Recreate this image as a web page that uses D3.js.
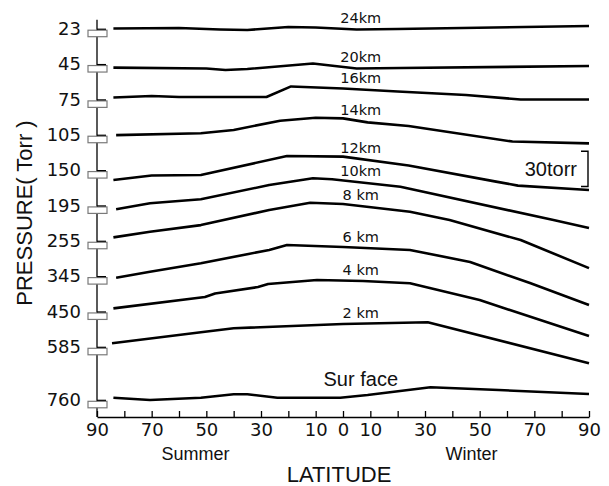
<!DOCTYPE html>
<html><head><meta charset="utf-8">
<script src="https://cdn.jsdelivr.net/npm/d3@7"></script>
<style>
html,body{margin:0;padding:0;background:#fff;}
svg{display:block;}
</style></head><body>
<svg id="chart" width="609" height="486"></svg>
<script>
// Reference pressure levels on the broken pressure axis (Torr)
const levels = [23, 45, 75, 105, 150, 195, 255, 345, 450, 585, 760];
// Latitude: negative = summer hemisphere, positive = winter hemisphere
const latTicks = d3.range(-90, 91, 10);
const latLabels = [-90, -70, -50, -30, -10, 0, 10, 30, 50, 70, 90];
const torrPerBand = 30;

// Pressure (Torr) along each constant-height surface: [latitude, pressure]
const km24 = [[-84,23.2],[-60,23.6],[-45,22.3],[-35,21.9],[-20,24.4],[-10,24.0],[5,22.3],[20,22.7],[90,25.3]];
const km20 = [[-84,42.0],[-50,41.2],[-43,39.9],[-35,40.8],[-11,45.4],[5,41.2],[21,41.6],[90,43.3]];
const km16 = [[-84,76.6],[-70,77.9],[-60,77.0],[-28,77.0],[-19,86.0],[0,84.3],[20,81.7],[45,78.7],[65,74.9],[90,74.9]];
const km14 = [[-83,104.7],[-52,106.2],[-40,109.0],[-23,116.9],[-10,119.4],[0,118.9],[9,115.5],[24,112.4],[62,99.2],[90,97.7]];
const km12 = [[-84,141.6],[-70,145.4],[-52,145.8],[-20.5,162.0],[0,161.4],[24,153.9],[56,140.2],[64,136.8],[90,133.1]];
const km10 = [[-83,191.7],[-70.6,196.8],[-52,200.2],[-27,212.3],[-11,218.0],[-4,217.2],[21,210.9],[77,182.6],[90,175.8]];
const km8  = [[-84,257.9],[-70.6,262.6],[-52,268.3],[-27,281.1],[-12,287.3],[0,286.2],[24.5,279.6],[39,272.6],[65,255.6],[90,231.8]];
const km6  = [[-83,343.6],[-70.6,348.7],[-52,355.9],[-27,367.2],[-20.5,371.4],[0,369.7],[24.5,367.2],[46.5,357.0],[68.4,339.1],[90,320.5]];
const km4  = [[-84,452.6],[-50.5,462.2],[-46.8,465.2],[-31.1,470.7],[-27.4,473.3],[-9.5,476.7],[7.3,475.8],[24.5,473.9],[50,459.7],[90,429.1]];
const km2  = [[-84.5,588.0],[-52,597.3],[-40,600.7],[0,604.4],[31,605.8],[90,571.0]];
const surface = [[-84,761.8],[-70.6,759.8],[-52,761.8],[-40,764.7],[-35,764.7],[-24,761.8],[-1,761.8],[9,764.1],[32,770.6],[57,768.3],[90,764.9]];

const seriesNames  = ["24km","20km","16km","14km","12km","10km","8 km","6 km","4 km","2 km","Sur face"];
const seriesLevels = [23, 45, 75, 105, 150, 195, 255, 345, 450, 585, 760];
const seriesData   = [km24, km20, km16, km14, km12, km10, km8, km6, km4, km2, surface];

// Scale bar: a 30 Torr span drawn next to the 150 Torr level
const bracketLevel = 150;
const bracketTorr = [136, 166];
const labelLat = 6.5;

const svg = d3.select("#chart");
const axisX = 97, axisBottom = 417;

const x = d3.scaleLinear().domain([-90, 90]).range([97, 589]);
// the surface level sits half a band further down than the regular spacing
const levelIndex = levels.map((p, i) => i === levels.length - 1 ? i + 0.5 : i);
const band = d3.scaleLinear().domain([0, 10.5]).range([28.7, 399.8]);
const idxOf = lv => levelIndex[levels.indexOf(lv)];
const yOf = (lv, p) => band(idxOf(lv) - (p - lv) / torrPerBand);
const yLevel = d3.scaleOrdinal().domain(levels).range(levels.map(lv => band(idxOf(lv))));

const tickFont = "DejaVu Sans, sans-serif";
const textFont = "Liberation Sans, Arial, sans-serif";

// ---- y axis (broken) ----
svg.append("line")
  .attr("x1", axisX).attr("x2", axisX)
  .attr("y1", band(-0.25)).attr("y2", axisBottom)
  .attr("stroke", "#000").attr("stroke-width", 1.3);

const yAxis = d3.axisLeft(yLevel).tickValues(levels).tickSize(0).tickPadding(16);
svg.append("g").attr("transform", `translate(${axisX},0)`).call(yAxis)
  .call(g => g.select(".domain").remove())
  .call(g => g.selectAll("text").attr("font-family", tickFont).attr("font-size", 18).attr("fill", "#111"));

const brk = svg.append("g");
levels.forEach(lv => {
  const y = yLevel(lv);
  brk.append("rect")
    .attr("x", axisX - 9).attr("y", y + 1.5).attr("width", 19).attr("height", 6.5)
    .attr("fill", "#fff").attr("stroke", "#7a7a7a").attr("stroke-width", 1.2);
  brk.append("line")
    .attr("x1", axisX).attr("x2", axisX + 9).attr("y1", y + 0.5).attr("y2", y + 0.5)
    .attr("stroke", "#000").attr("stroke-width", 1.2);
});

// ---- x axis ----
const xAxis = d3.axisBottom(x).tickValues(latTicks).tickSize(-6).tickSizeOuter(0).tickPadding(6)
  .tickFormat(d => latLabels.includes(d) ? String(Math.abs(d)) : "");
svg.append("g").attr("transform", `translate(0,${axisBottom})`).call(xAxis)
  .call(g => g.select(".domain").attr("stroke-width", 1.3))
  .call(g => g.selectAll(".tick line").attr("stroke-width", 1.3))
  .call(g => g.selectAll("text").attr("font-family", tickFont).attr("font-size", 18).attr("fill", "#111"));

// ---- constant-height lines ----
const lines = svg.append("g");
seriesData.forEach((pts, i) => {
  const lv = seriesLevels[i];
  const gen = d3.line().x(d => x(d[0])).y(d => yOf(lv, d[1])).curve(d3.curveLinear);
  lines.append("path").attr("d", gen(pts))
    .attr("fill", "none").attr("stroke", "#000").attr("stroke-width", 2.6)
    .attr("stroke-linejoin", "round");

  // label above the line at the label latitude
  const j = d3.bisector(d => d[0]).left(pts, labelLat);
  const a = pts[Math.max(j - 1, 0)], b = pts[Math.min(j, pts.length - 1)];
  const t = b[0] === a[0] ? 0 : (labelLat - a[0]) / (b[0] - a[0]);
  const ly = yOf(lv, a[1] + t * (b[1] - a[1]));
  const isSurface = i === seriesData.length - 1;
  lines.append("text")
    .attr("x", x(labelLat)).attr("y", ly - (isSurface ? 10 : 6))
    .attr("text-anchor", "middle")
    .attr("font-family", isSurface ? textFont : tickFont)
    .attr("font-size", isSurface ? 20 : 14.5)
    .attr("fill", "#111")
    .text(seriesNames[i]);
});

// ---- 30 Torr scale bracket ----
const bx = x(90) - 1;
const by0 = yOf(bracketLevel, bracketTorr[1]), by1 = yOf(bracketLevel, bracketTorr[0]);
svg.append("path")
  .attr("d", `M${bx - 7},${by0}H${bx}V${by1}H${bx - 7}`)
  .attr("fill", "none").attr("stroke", "#000").attr("stroke-width", 1.4);
svg.append("text")
  .attr("x", bx - 11).attr("y", (by0 + by1) / 2 + 7)
  .attr("text-anchor", "end").attr("font-family", textFont).attr("font-size", 20).attr("fill", "#111")
  .text(`${bracketTorr[1] - bracketTorr[0]}torr`);

// ---- axis titles ----
svg.append("text")
  .attr("transform", "translate(31.5,213) rotate(-90)")
  .attr("text-anchor", "middle").attr("font-family", textFont).attr("font-size", 22).attr("fill", "#111")
  .text("PRESSURE( Torr )");
svg.append("text")
  .attr("x", 339).attr("y", 481.5)
  .attr("text-anchor", "middle").attr("font-family", textFont).attr("font-size", 22).attr("fill", "#111")
  .text("LATITUDE");
svg.append("text")
  .attr("x", x(-54)).attr("y", 459.5)
  .attr("text-anchor", "middle").attr("font-family", textFont).attr("font-size", 18).attr("fill", "#111")
  .text("Summer");
svg.append("text")
  .attr("x", x(47)).attr("y", 459.5)
  .attr("text-anchor", "middle").attr("font-family", textFont).attr("font-size", 18).attr("fill", "#111")
  .text("Winter");
</script>
</body></html>
